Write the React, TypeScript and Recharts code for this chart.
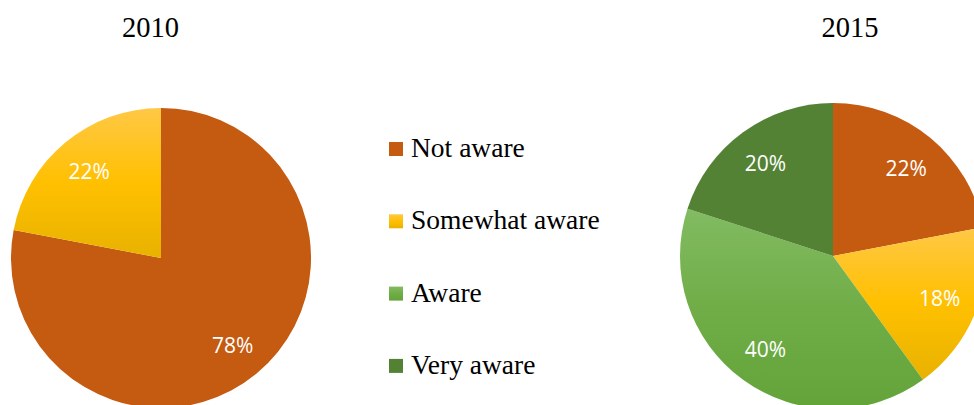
import React from 'react';
import { PieChart, Pie, Cell, Legend } from 'recharts';

const categories = ['Not aware', 'Somewhat aware', 'Aware', 'Very aware'];
const values2010 = [78, 22];
const values2015 = [22, 18, 40, 20];
const titles = ['2010', '2015'];
const fills = ['#C55A11', 'url(#gradYellow)', 'url(#gradGreen)', '#548235'];

const data2010 = values2010.map((v, i) => ({ name: categories[i], value: v }));
const data2015 = values2015.map((v, i) => ({ name: categories[i], value: v }));

const RAD = Math.PI / 180;

const renderLabel = (props: any) => {
  const { cx, cy, midAngle, outerRadius, value } = props;
  const r = outerRadius * 0.75;
  const x = cx + r * Math.cos(-midAngle * RAD);
  const y = cy + r * Math.sin(-midAngle * RAD);
  return (
    <text
      x={x}
      y={y}
      fill="#FFFFFF"
      textAnchor="middle"
      dominantBaseline="central"
      style={{ fontFamily: '"Open Sans", sans-serif', fontSize: 21 }}
    >
      {`${value}%`}
    </text>
  );
};

const LegendContent = () => (
  <svg width={260} height={270} style={{ overflow: 'visible' }}>
    {categories.map((c, i) => (
      <g key={c}>
        <rect x={9} y={22 + i * 72.3} width={14} height={14} fill={fills[i]} />
        <text
          x={31}
          y={37 + i * 72.3}
          fill="#000"
          style={{ fontFamily: '"Liberation Serif", "Times New Roman", serif', fontSize: 27.5 }}
        >
          {c}
        </text>
      </g>
    ))}
  </svg>
);

export default function App() {
  return (
    <div style={{ position: 'absolute', left: 0, top: 0, width: 974, height: 405, background: '#fff' }}>
      <PieChart width={974} height={405} margin={{ top: 0, right: 0, bottom: 0, left: 0 }}>
        <defs>
          <linearGradient id="gradYellow" x1="0" y1="0" x2="0" y2="1">
            <stop offset="0%" stopColor="#FFC846" />
            <stop offset="50%" stopColor="#FFC000" />
            <stop offset="100%" stopColor="#E8B200" />
          </linearGradient>
          <linearGradient id="gradGreen" x1="0" y1="0" x2="0" y2="1">
            <stop offset="0%" stopColor="#82BB62" />
            <stop offset="50%" stopColor="#70AD47" />
            <stop offset="100%" stopColor="#63A439" />
          </linearGradient>
        </defs>
        <text x={150.5} y={37} textAnchor="middle" fill="#000"
          style={{ fontFamily: '"Liberation Serif", "Times New Roman", serif', fontSize: 28.5 }}>
          {titles[0]}
        </text>
        <text x={850} y={37} textAnchor="middle" fill="#000"
          style={{ fontFamily: '"Liberation Serif", "Times New Roman", serif', fontSize: 28.5 }}>
          {titles[1]}
        </text>
        <Pie
          data={data2010}
          dataKey="value"
          nameKey="name"
          cx={161}
          cy={258}
          outerRadius={150}
          startAngle={90}
          endAngle={-270}
          stroke="none"
          label={renderLabel}
          labelLine={false}
          isAnimationActive={false}
        >
          {data2010.map((d, i) => (
            <Cell key={d.name} fill={fills[i]} />
          ))}
        </Pie>
        <Pie
          data={data2015}
          dataKey="value"
          nameKey="name"
          cx={833}
          cy={256}
          outerRadius={153}
          startAngle={90}
          endAngle={-270}
          stroke="none"
          label={renderLabel}
          labelLine={false}
          isAnimationActive={false}
        >
          {data2015.map((d, i) => (
            <Cell key={d.name} fill={fills[i]} />
          ))}
        </Pie>
        <Legend
          content={<LegendContent />}
          wrapperStyle={{ position: 'absolute', left: 380, top: 120, width: 260, height: 270 }}
        />
      </PieChart>
    </div>
  );
}
